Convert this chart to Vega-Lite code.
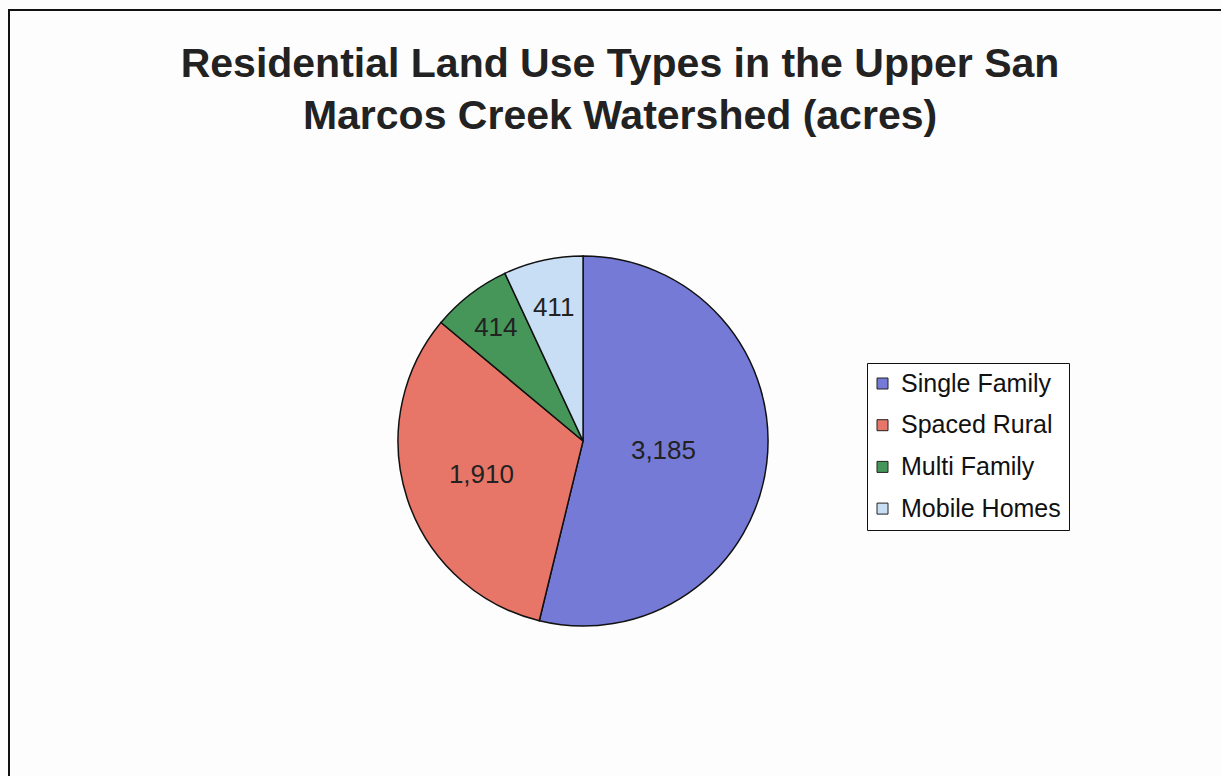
{
  "$schema": "https://vega.github.io/schema/vega-lite/v6.json",
  "width": 1230,
  "height": 790,
  "autosize": {"type": "none"},
  "padding": {"left": 9, "top": 10, "right": 0, "bottom": 0},
  "background": "#fdfdfd",
  "config": {
    "view": {"stroke": "#111", "strokeWidth": 2},
    "font": "Liberation Sans"
  },
  "title": {
    "text": ["Residential Land Use Types in the Upper San", "Marcos Creek Watershed (acres)"],
    "font": "Liberation Sans",
    "fontSize": 41,
    "fontWeight": "bold",
    "color": "#222",
    "lineHeight": 52,
    "anchor": "middle",
    "baseline": "alphabetic",
    "offset": -67,
    "dy": 93,
    "dx": -4
  },
  "data": {
    "values": [
      {"type": "Single Family", "acres": 3185, "order": 1},
      {"type": "Spaced Rural", "acres": 1910, "order": 2},
      {"type": "Multi Family", "acres": 414, "order": 3},
      {"type": "Mobile Homes", "acres": 411, "order": 4}
    ]
  },
  "encoding": {
    "theta": {"field": "acres", "type": "quantitative", "stack": true},
    "order": {"field": "order", "type": "quantitative"},
    "x": {"datum": 0.4667, "type": "quantitative", "scale": {"domain": [0, 1]}, "axis": null},
    "y": {"datum": 0.5456, "type": "quantitative", "scale": {"domain": [0, 1], "reverse": true}, "axis": null}
  },
  "layer": [
    {
      "mark": {"type": "arc", "outerRadius": 185, "stroke": "#111", "strokeWidth": 1.5},
      "encoding": {
        "color": {
          "field": "type",
          "type": "nominal",
          "scale": {
            "domain": ["Single Family", "Spaced Rural", "Multi Family", "Mobile Homes"],
            "range": ["#757ad6", "#e87668", "#46965a", "#c8def5"]
          },
          "legend": {
            "orient": "none",
            "legendX": 858,
            "legendY": 353,
            "title": null,
            "symbolType": "square",
            "symbolSize": 121,
            "symbolOffset": -5,
            "symbolStrokeColor": "#222",
            "symbolStrokeWidth": 1,
            "labelFont": "Liberation Sans",
            "labelFontSize": 25,
            "labelColor": "#111",
            "labelOffset": 6,
            "labelLimit": 300,
            "rowPadding": 15.7,
            "padding": 8,
            "strokeColor": "#111",
            "fillColor": "#ffffff"
          }
        }
      }
    },
    {
      "mark": {"type": "text", "radius": 81, "fontSize": 26, "color": "#222"},
      "encoding": {
        "text": {"condition": {"test": "datum.type == 'Single Family'", "field": "acres", "type": "quantitative", "format": ","}, "value": ""}
      }
    },
    {
      "mark": {"type": "text", "radius": 107, "fontSize": 26, "color": "#222"},
      "encoding": {
        "text": {"condition": {"test": "datum.type == 'Spaced Rural'", "field": "acres", "type": "quantitative", "format": ","}, "value": ""}
      }
    },
    {
      "mark": {"type": "text", "radius": 143, "fontSize": 26, "color": "#222"},
      "encoding": {
        "text": {"condition": {"test": "datum.type == 'Multi Family'", "field": "acres", "type": "quantitative", "format": ","}, "value": ""}
      }
    },
    {
      "mark": {"type": "text", "radius": 136, "fontSize": 26, "color": "#222"},
      "encoding": {
        "text": {"condition": {"test": "datum.type == 'Mobile Homes'", "field": "acres", "type": "quantitative", "format": ","}, "value": ""}
      }
    }
  ]
}
